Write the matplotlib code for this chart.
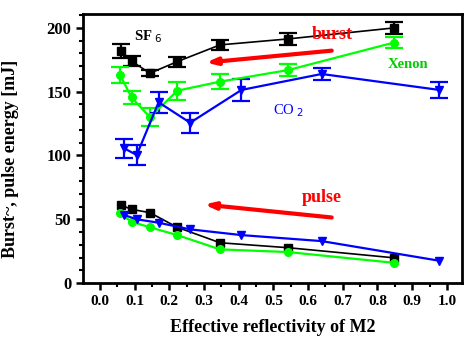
import matplotlib
matplotlib.use("Agg")
import matplotlib.pyplot as plt
from matplotlib.ticker import MultipleLocator

plt.rcParams['font.family'] = ['Liberation Serif', 'DejaVu Serif']

# Effective reflectivity of M2 for each gas
x_sf6 = [0.06, 0.091, 0.144, 0.223, 0.346, 0.543, 0.847]
x_xe = [0.058, 0.091, 0.144, 0.223, 0.346, 0.543, 0.847]
x_co2 = [0.07, 0.106, 0.169, 0.26, 0.408, 0.639, 0.978]

# Burst energy [mJ] with error bars
burst_sf6 = [182, 174, 164.5, 173.6, 186.7, 191.4, 200]
burst_sf6_err = [5.5, 4, 2.5, 4, 4, 5, 5]
burst_xe = [163, 145.6, 130, 150.8, 157.9, 167, 188.5]
burst_xe_err = [6, 5, 7, 7, 6, 5, 4]
burst_co2 = [105.6, 100.4, 141.7, 125.7, 151.4, 163.9, 151.4]
burst_co2_err = [7.5, 8, 8, 8, 8.5, 5, 6]

# Pulse energy [mJ]
pulse_sf6 = [61.2, 57.8, 55.2, 43.7, 31.6, 27.7, 19.8]
pulse_xe = [54.6, 48.1, 43.7, 37.6, 26.4, 24.3, 15.9]
pulse_co2 = [53.3, 50.0, 47.3, 42.1, 37.6, 32.9, 17.5]

x_ticks = [0.0, 0.1, 0.2, 0.3, 0.4, 0.5, 0.6, 0.7, 0.8, 0.9, 1.0]
y_ticks = [0, 50, 100, 150, 200]

BLACK = '#000000'
GREEN = '#00ff00'
BLUE = '#0000ff'
RED = '#ff0000'

fig = plt.figure(figsize=(4.66, 3.39), dpi=100)
ax = fig.add_axes([0.178, 0.165, 0.813, 0.794])

eb = dict(capsize=6.5, elinewidth=1.6, capthick=1.6)
ax.errorbar(x_sf6, burst_sf6, yerr=burst_sf6_err, color=BLACK, marker='s',
            ms=5.5, lw=1.2, **eb)
ax.errorbar(x_xe, burst_xe, yerr=burst_xe_err, color=GREEN, marker='o',
            ms=5.5, lw=1.6, **eb)
ax.errorbar(x_co2, burst_co2, yerr=burst_co2_err, color=BLUE, marker='v',
            ms=6, lw=1.6, **eb)

ax.plot(x_sf6, pulse_sf6, color=BLACK, marker='s', ms=5.5, lw=1.2)
ax.plot(x_xe, pulse_xe, color=GREEN, marker='o', ms=5.5, lw=1.6)
ax.plot(x_co2, pulse_co2, color=BLUE, marker='v', ms=6, lw=1.6)

# direction arrows
arrow = dict(arrowstyle='-|>,head_length=0.6,head_width=0.2', color=RED,
             lw=3, shrinkA=0, shrinkB=0)
ax.annotate('', xy=(0.305, 172.8), xytext=(0.668, 182.2), arrowprops=arrow)
ax.annotate('', xy=(0.300, 61.6), xytext=(0.668, 51.4), arrowprops=arrow)

ax.text(0.669, 194.5, 'burst', color=RED, fontsize=13, fontweight='bold',
        ha='center', va='center')
ax.text(0.639, 67, 'pulse', color=RED, fontsize=13, fontweight='bold',
        ha='center', va='center')
ax.text(0.138, 193, r'SF$_{\ 6}$', color=BLACK, fontsize=10.5, ha='center',
        va='center', fontweight='bold')
ax.text(0.888, 171, 'Xenon', color='#00cc00', fontsize=10.5, ha='center',
        va='center', fontweight='bold')
ax.text(0.545, 135.5, r'CO$_{\ 2}$', color=BLUE, fontsize=10.5, ha='center',
        va='center')

ax.set_xlim(-0.049, 1.043)
ax.set_ylim(0, 211)
ax.set_xticks(x_ticks)
ax.set_xticklabels([f'{v:.1f}' for v in x_ticks])
ax.set_yticks(y_ticks)
ax.xaxis.set_minor_locator(MultipleLocator(0.05))
ax.yaxis.set_minor_locator(MultipleLocator(10))

for s in ax.spines.values():
    s.set_linewidth(2)
ax.tick_params(which='major', direction='out', length=5, width=1.8,
               labelsize=11)
ax.tick_params(which='minor', direction='out', length=3, width=1.5)
for lab in ax.get_yticklabels():
    lab.set_fontweight('bold')
    lab.set_fontsize(12)
for lab in ax.get_xticklabels():
    lab.set_fontweight('bold')

ax.set_xlabel('Effective reflectivity of M2', fontsize=13, fontweight='bold',
              labelpad=8)
ax.set_ylabel('Burst~, pulse energy [mJ]', fontsize=13, fontweight='bold')
ax.yaxis.set_label_coords(-0.17, 0.46)

fig.savefig('out.png', dpi=100)
